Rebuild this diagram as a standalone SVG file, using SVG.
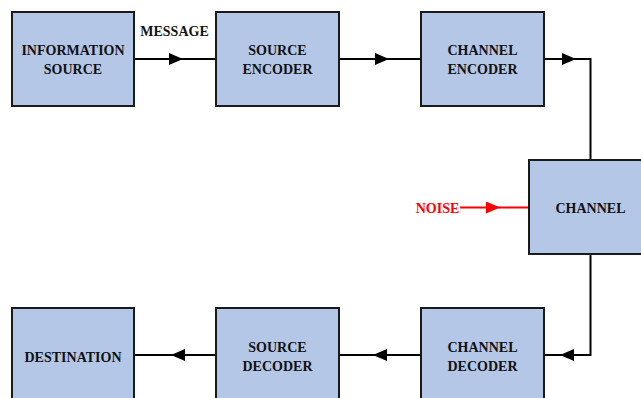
<svg xmlns="http://www.w3.org/2000/svg" width="641" height="398" viewBox="0 0 641 398">
<defs>
<marker id="ah" viewBox="0 0 14 12" refX="14" refY="6" markerWidth="14" markerHeight="12" markerUnits="userSpaceOnUse" orient="auto">
<path d="M0,0 L14,6 L0,12 Z" fill="#000"/>
</marker>
<marker id="ahr" viewBox="0 0 14 12" refX="14" refY="6" markerWidth="14" markerHeight="12" markerUnits="userSpaceOnUse" orient="auto">
<path d="M0,0 L14,6 L0,12 Z" fill="#ff0000"/>
</marker>
<style>
.box{fill:#b4c7e7;stroke:#1a1a1a;stroke-width:2}
.t{font-family:"Liberation Serif","Times New Roman",serif;font-weight:bold;font-size:14px;fill:#111;text-anchor:middle}
.c{fill:none;stroke:#000;stroke-width:2}
</style>
</defs>
<rect width="641" height="398" fill="#fff"/>
<g id="connectors">
<path class="c" d="M134,59 L183,59 L216,59" marker-mid="url(#ah)"/>
<path class="c" d="M339,59 L389,59 L421,59" marker-mid="url(#ah)"/>
<path class="c" d="M544,59 L576,59" marker-end="url(#ah)"/>
<path class="c" d="M576,59 L590.5,59 L590.5,160"/>
<path class="c" d="M590.5,254 L590.5,355 L544,355"/>
<path d="M574,349 L560,355 L574,361 Z" fill="#000"/>
<path class="c" d="M421,355 L373,355 L339,355" marker-mid="url(#ah)"/>
<path class="c" d="M216,355 L171,355 L134,355" marker-mid="url(#ah)"/>
<path d="M460,207.5 L500,207.5 L529,207.5" fill="none" stroke="#ff0000" stroke-width="2" marker-mid="url(#ahr)"/>
</g>
<g id="information-source">
<rect class="box" x="12" y="12" width="122" height="94"/>
<text class="t" x="73" y="55">INFORMATION</text>
<text class="t" x="73" y="73.5">SOURCE</text>
</g>
<g id="source-encoder">
<rect class="box" x="216" y="12" width="123" height="94"/>
<text class="t" x="277.5" y="55">SOURCE</text>
<text class="t" x="277.5" y="73.5">ENCODER</text>
</g>
<g id="channel-encoder">
<rect class="box" x="421" y="12" width="123" height="94"/>
<text class="t" x="482.5" y="55">CHANNEL</text>
<text class="t" x="482.5" y="73.5">ENCODER</text>
</g>
<g id="channel">
<rect class="box" x="529" y="160" width="124" height="94"/>
<text class="t" x="590.5" y="213">CHANNEL</text>
</g>
<g id="channel-decoder">
<rect class="box" x="421" y="308" width="123" height="94"/>
<text class="t" x="482.5" y="352">CHANNEL</text>
<text class="t" x="482.5" y="370.5">DECODER</text>
</g>
<g id="source-decoder">
<rect class="box" x="216" y="308" width="123" height="94"/>
<text class="t" x="277.5" y="352">SOURCE</text>
<text class="t" x="277.5" y="370.5">DECODER</text>
</g>
<g id="destination">
<rect class="box" x="12" y="308" width="122" height="94"/>
<text class="t" x="73" y="361.5">DESTINATION</text>
</g>
<g id="labels">
<text class="t" x="174.5" y="36">MESSAGE</text>
<text class="t" x="437.5" y="212.5" style="fill:#ff0000">NOISE</text>
</g>
</svg>
